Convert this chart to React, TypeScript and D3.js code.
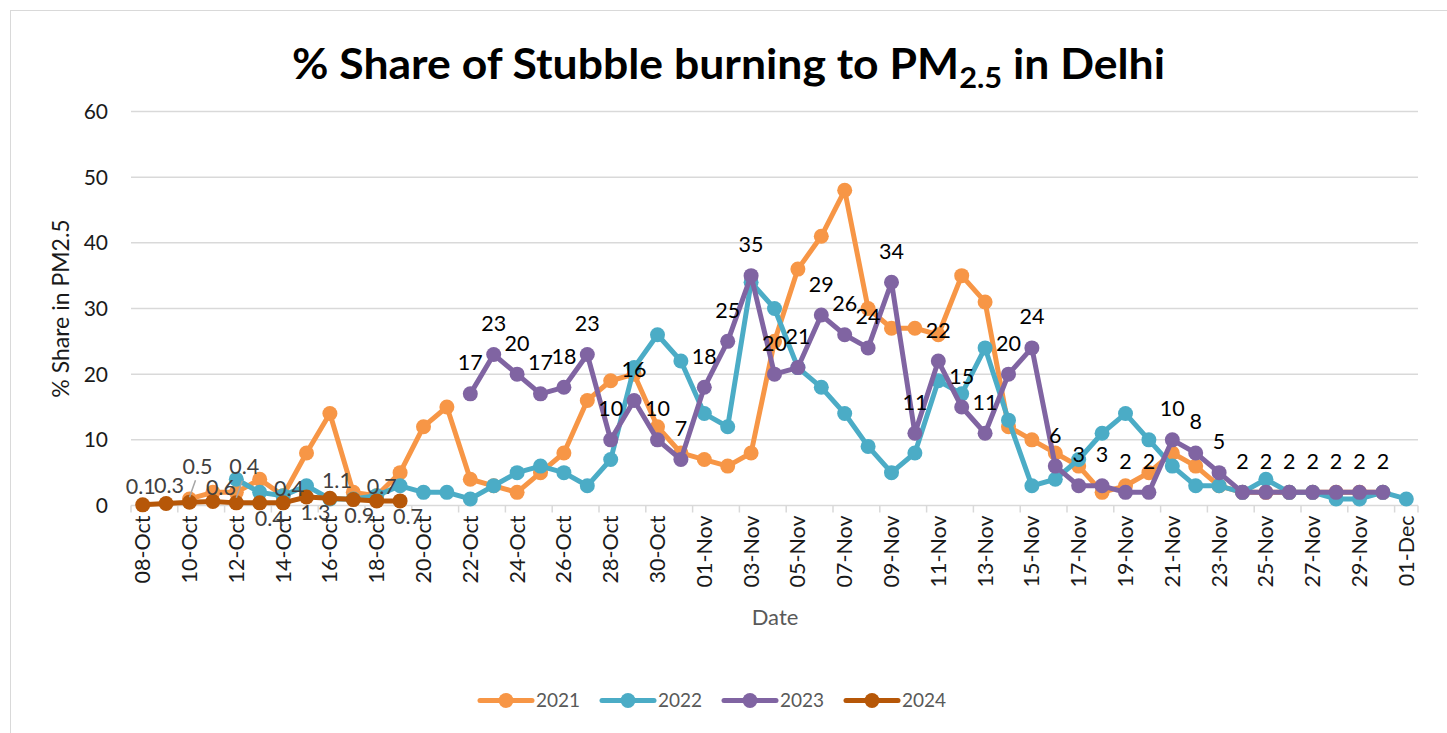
import React from "react";
import * as d3 from "d3";

const dates = [
  "08-Oct","09-Oct","10-Oct","11-Oct","12-Oct","13-Oct","14-Oct","15-Oct","16-Oct","17-Oct",
  "18-Oct","19-Oct","20-Oct","21-Oct","22-Oct","23-Oct","24-Oct","25-Oct","26-Oct","27-Oct",
  "28-Oct","29-Oct","30-Oct","31-Oct","01-Nov","02-Nov","03-Nov","04-Nov","05-Nov","06-Nov",
  "07-Nov","08-Nov","09-Nov","10-Nov","11-Nov","12-Nov","13-Nov","14-Nov","15-Nov","16-Nov",
  "17-Nov","18-Nov","19-Nov","20-Nov","21-Nov","22-Nov","23-Nov","24-Nov","25-Nov","26-Nov",
  "27-Nov","28-Nov","29-Nov","30-Nov","01-Dec",
];

const N = null;
const s2021: (number | null)[] = [
  N, N, 1, 2, 2, 4, 1.5, 8, 14, 2,
  1.5, 5, 12, 15, 4, 3, 2, 5, 8, 16,
  19, 20, 12, 8, 7, 6, 8, 25, 36, 41,
  48, 30, 27, 27, 26, 35, 31, 12, 10, 8,
  6, 2, 3, 5, 8, 6, 3, 2, 2, 2,
  2, 2, 2, 2, N,
];
const s2022: (number | null)[] = [
  N, N, N, N, 4, 2, 1.5, 3, 1, 1,
  1.5, 3, 2, 2, 1, 3, 5, 6, 5, 3,
  7, 21, 26, 22, 14, 12, 34, 30, 21, 18,
  14, 9, 5, 8, 19, 17, 24, 13, 3, 4,
  7, 11, 14, 10, 6, 3, 3, 2, 4, 2,
  2, 1, 1, 2, 1,
];
const s2023: (number | null)[] = [
  N, N, N, N, N, N, N, N, N, N,
  N, N, N, N, 17, 23, 20, 17, 18, 23,
  10, 16, 10, 7, 18, 25, 35, 20, 21, 29,
  26, 24, 34, 11, 22, 15, 11, 20, 24, 6,
  3, 3, 2, 2, 10, 8, 5, 2, 2, 2,
  2, 2, 2, 2, N,
];
const s2024: (number | null)[] = [
  0.1, 0.3, 0.5, 0.6, 0.4, 0.4, 0.4, 1.3, 1.1, 0.9,
  0.7, 0.7, N, N, N, N, N, N, N, N,
  N, N, N, N, N, N, N, N, N, N,
  N, N, N, N, N, N, N, N, N, N,
  N, N, N, N, N, N, N, N, N, N,
  N, N, N, N, N,
];

const seriesNames = ["2021", "2022", "2023", "2024"];
const seriesValues = [s2021, s2022, s2023, s2024];
const seriesColors = ["#F79646", "#4BACC6", "#8064A2", "#B65708"];
const yTicks = [0, 10, 20, 30, 40, 50, 60];

// label placement for 2024 data labels (offset from point, leader flag)
const label2024Pos = [
  { dx: -2, dy: -18, leader: false },
  { dx: 3, dy: -18, leader: false },
  { dx: 8, dy: -36, leader: true },
  { dx: 8, dy: -14, leader: false },
  { dx: 8, dy: -36, leader: true },
  { dx: 10, dy: 16, leader: false },
  { dx: 6, dy: -14, leader: false },
  { dx: 9, dy: 16, leader: false },
  { dx: 7, dy: -18, leader: false },
  { dx: 6, dy: 16, leader: false },
  { dx: 5, dy: -14, leader: false },
  { dx: 8, dy: 16, leader: false },
];

const FONT = "Lato, 'Open Sans', sans-serif";

export default function App() {
  const W = 1447;
  const H = 733;
  const left = 131;
  const right = 1418;
  const top = 111.5;
  const bottom = 505.5;

  const x = d3.scaleBand<string>().domain(dates).range([left, right]).padding(0);
  const bw = x.bandwidth();
  const cx = (d: string) => (x(d) as number) + bw / 2;
  const y = d3.scaleLinear().domain([0, 60]).range([bottom, top]);

  const lineGen = d3
    .line<number | null>()
    .defined((d) => d !== null)
    .x((_, i) => cx(dates[i]))
    .y((d) => y(d as number));

  const tickIdx = dates.map((_, i) => i).filter((i) => i % 2 === 0);

  const legendX0 = 480;
  const legendStep = 122;
  const legendY = 700.5;

  return (
    <svg width={W} height={H} style={{ display: "block", position: "absolute", left: 0, top: 0 }}>
      <rect x={0} y={0} width={W} height={H} fill="#fff" />
      <rect x={10.5} y={10.5} width={W} height={H} fill="none" stroke="#D9D9D9" strokeWidth={1} />

      {/* title */}
      <text
        x={292}
        y={79}
        fontFamily={FONT}
        fontWeight={700}
        fontSize={42}
        fill="#000"
        textLength={873}
        lengthAdjust="spacingAndGlyphs"
      >
        % Share of Stubble burning to PM
        <tspan dy={9} fontSize={29}>2.5</tspan>
        <tspan dy={-9}> in Delhi</tspan>
      </text>

      {/* gridlines */}
      {yTicks.map((t) => (
        <line key={t} x1={left} x2={right} y1={y(t)} y2={y(t)} stroke="#D9D9D9" strokeWidth={1.5} />
      ))}
      {/* x tick marks */}
      {[...tickIdx.map((i) => x(dates[i]) as number), right].map((tx, k) => (
        <line key={k} x1={tx} x2={tx} y1={bottom} y2={bottom + 7} stroke="#D9D9D9" strokeWidth={1.5} />
      ))}

      {/* y tick labels */}
      {yTicks.map((t) => (
        <text key={t} x={108} y={y(t)} dy="0.35em" textAnchor="end" fontFamily={FONT} fontSize={21} fill="#1a1a1a">
          {t}
        </text>
      ))}
      {/* y axis title */}
      <text
        transform={`translate(69,${(top + bottom) / 2}) rotate(-90)`}
        textAnchor="middle"
        fontFamily={FONT}
        fontSize={23}
        fill="#1a1a1a"
      >
        % Share in PM2.5
      </text>

      {/* x tick labels */}
      {tickIdx.map((i) => (
        <text
          key={i}
          transform={`translate(${cx(dates[i]) + 7.5},${bottom + 10}) rotate(-90)`}
          textAnchor="end"
          fontFamily={FONT}
          fontSize={21.5}
          fill="#1a1a1a"
        >
          {dates[i]}
        </text>
      ))}
      {/* x axis title */}
      <text x={775} y={625} textAnchor="middle" fontFamily={FONT} fontSize={22} fill="#595959">
        Date
      </text>

      {/* series */}
      {seriesValues.map((vals, si) => (
        <g key={si}>
          <path d={lineGen(vals) || ""} fill="none" stroke={seriesColors[si]} strokeWidth={5} strokeLinejoin="round" strokeLinecap="round" />
          {vals.map((v, i) =>
            v === null ? null : (
              <circle key={i} cx={cx(dates[i])} cy={y(v)} r={7.5} fill={seriesColors[si]} />
            )
          )}
        </g>
      ))}

      {/* 2023 labels */}
      {s2023.map((v, i) =>
        v === null ? null : (
          <text key={i} x={cx(dates[i])} y={y(v) - 31} dy="0.35em" textAnchor="middle" fontFamily={FONT} fontSize={21.5} fill="#000">
            {v}
          </text>
        )
      )}

      {/* 2024 labels */}
      {s2024.map((v, i) => {
        if (v === null) return null;
        const p = label2024Pos[i];
        const px = cx(dates[i]);
        const py = y(v);
        return (
          <g key={i}>
            {p.leader && (
              <line x1={px} y1={py - 5} x2={px + p.dx - 2} y2={py + p.dy + 14} stroke="#A6A6A6" strokeWidth={1.5} />
            )}
            <text x={px + p.dx} y={py + p.dy} dy="0.35em" textAnchor="middle" fontFamily={FONT} fontSize={21.5} fill="#404040">
              {v}
            </text>
          </g>
        );
      })}

      {/* legend */}
      {seriesNames.map((nm, si) => {
        const lx = legendX0 + si * legendStep;
        return (
          <g key={nm}>
            <line x1={lx} x2={lx + 52} y1={legendY} y2={legendY} stroke={seriesColors[si]} strokeWidth={5} strokeLinecap="round" />
            <circle cx={lx + 26} cy={legendY} r={7.5} fill={seriesColors[si]} />
            <text x={lx + 56} y={legendY} dy="0.35em" fontFamily={FONT} fontSize={19} fill="#595959">
              {nm}
            </text>
          </g>
        );
      })}
    </svg>
  );
}
